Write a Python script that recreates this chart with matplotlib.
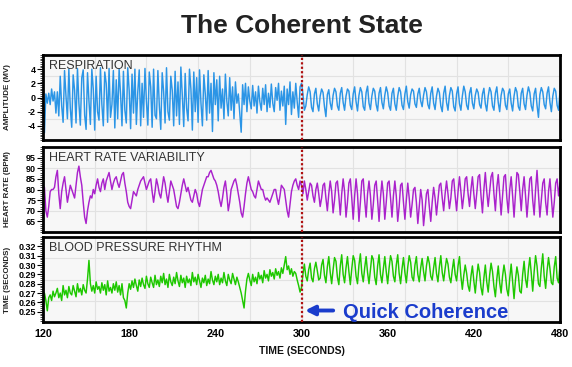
import numpy as np
import matplotlib
matplotlib.use("Agg")
import matplotlib.pyplot as plt
from matplotlib.ticker import MultipleLocator, FormatStrFormatter

plt.rcParams["font.family"] = ["Liberation Sans", "DejaVu Sans"]

# Respiration amplitude (MV), one reading per second from 120 s to 480 s
resp = [
    1.5, -5.0, 0.5, -0.8, 0.6, -1.0, 1.2, -0.5, 0.8, -2.2,
    0.8, -2.6, 3.0, -1.2, -3.5, 3.8, 0.2, -3.0, 4.0, -1.5,
    -4.2, 3.2, 1.0, -3.6, 4.1, -0.8, -3.9, 2.8, 3.9, -2.5,
    -4.5, 3.5, -0.5, -3.8, 4.0, 1.2, -4.6, 3.0, -2.0, -3.2,
    4.2, -1.0, -4.0, 3.6, 2.0, -3.5, 4.1, -2.8, -1.0, 3.8,
    -4.3, 2.5, -3.0, 4.0, 0.5, -4.0, 3.7, -1.8, -3.6, 4.2,
    1.0, -4.4, 3.3, -2.2, 4.0, -3.8, 0.8, 3.9, -4.0, 2.0,
    -2.8, 4.1, -0.5, -3.9, 3.6, 1.5, -4.2, 4.0, -2.5, -3.0,
    3.8, -1.2, -4.5, 3.5, 0.8, -3.6, 4.2, -2.0, -3.2, 3.0,
    1.0, -4.0, 3.7, -2.6, 2.2, -3.8, 4.3, 0.3, -4.1, 3.4,
    -1.5, -3.3, 4.0, 1.2, -4.6, 3.6, -2.0, 2.8, -3.5, 3.9,
    -0.8, -4.0, 3.2, 0.5, -3.2, 3.8, -2.2, 2.0, -4.8, 3.5,
    -1.0, 2.5, -3.3, 3.0, -1.5, 1.2, -3.0, 3.3, -0.5, -2.6,
    2.8, -1.8, 1.5, -3.0, 2.2, -0.8, 0.5, -2.2, -4.9, 1.8,
    -1.0, 2.0, -2.0, 1.5, -0.5, -1.6, 1.7, -1.2, 0.8, -2.2,
    1.6, -0.6, -1.8, 1.3, -1.0, 1.8, -2.0, 0.6, -1.4, 1.9,
    -0.8, -2.0, 1.4, -0.4, 2.0, -1.8, 0.9, -1.2, 1.6, -3.8,
    1.2, -1.0, 2.2, -2.4, 0.8, -1.5, 2.0, -0.6, -2.8, 1.5,
    # 300 s onward: coherent breathing
    2.0, 0.5, -1.8, -1.2,
    0.4, 1.5, 0.8, -1.4, -2.0,
    0.5, 1.3, -0.9, -1.9,
    0.2, 1.2, 0.7, -1.3, -2.7,
    0.4, 1.1, -0.8, -1.7,
    0.3, 1.3, 0.8, -1.2, -1.8,
    0.6, 1.4, -0.7, -1.8,
    0.2, 1.2, 0.9, -1.1, -1.7,
    0.5, 1.5, -0.6, -1.9,
    0.3, 1.4, 0.8, -1.3, -1.8,
    0.7, 1.6, -0.8, -1.7,
    0.2, 1.3, 0.9, -1.0, -1.9,
    0.6, 1.4, -0.7, -1.6,
    0.3, 1.5, 0.7, -1.2, -1.8,
    0.6, 1.3, -0.9, -1.8,
    0.2, 1.4, 0.8, -1.1, -1.7,
    0.5, 1.6, -0.6, -1.5,
    0.4, 1.2, 0.9, -0.9, -1.4,
    0.5, 1.3, -0.5, -1.3,
    0.3, 1.4, 0.8, -1.0, -1.6,
    0.6, 1.5, -0.8, -1.7,
    0.2, 1.3, 0.7, -1.2, -2.0,
    0.6, 1.6, -0.7, -1.8,
    0.3, 1.4, 0.9, -1.3, -1.9,
    0.5, 1.5, -0.9, -1.8,
    0.2, 1.6, 0.8, -1.1, -1.7,
    0.6, 1.4, -0.8, -1.6,
    0.3, 1.2, 0.7, -1.0, -1.5,
    0.5, 1.3, -0.9, -1.9,
    0.2, 1.4, 0.8, -1.2, -1.8,
    0.6, 1.5, -0.7, -2.0,
    0.3, 1.3, 0.9, -1.1, -1.7,
    0.5, 1.2, -0.8, -1.9,
    0.2, 1.4, 0.8, -1.3, -1.8,
    0.6, 1.3, -0.9, -1.7,
    0.3, 1.5, 0.7, -1.2, -1.9,
    0.5, 1.3, -1.1, -2.8,
    0.4, 1.4, 0.8, -1.0, -1.6,
    0.6, 1.5, -0.7, -2.0,
    0.2, 1.3, 0.9, -1.1, -1.8,
    0.9,
]

# Heart rate (BPM), one reading per second
hrv = [
    82, 81, 70, 67, 72, 79, 80, 80, 81, 86,
    89, 78, 71, 79, 83, 86, 80, 74, 78, 82,
    80, 78, 76, 82, 88, 91, 86, 82, 74, 67,
    64, 70, 74, 77, 76, 80, 78, 82, 85, 81,
    79, 83, 85, 80, 84, 86, 88, 84, 80, 83,
    85, 86, 83, 81, 84, 87, 88, 83, 79, 74,
    72, 71, 75, 79, 78, 77, 80, 82, 84, 85,
    86, 83, 80, 82, 84, 85, 79, 74, 79, 85,
    82, 78, 76, 81, 86, 83, 78, 74, 79, 84,
    82, 80, 76, 72, 71, 74, 78, 82, 85, 82,
    79, 81, 78, 75, 74, 77, 80, 78, 74, 72,
    76, 80, 82, 84, 86, 86, 88, 89, 87, 85,
    84, 82, 79, 75, 72, 76, 81, 84, 78, 70,
    74, 80, 82, 84, 85, 82, 78, 74, 69, 67,
    72, 78, 83, 86, 83, 80, 79, 77, 76, 80,
    84, 82, 80, 80, 77, 75, 76, 75, 74, 76,
    78, 80, 80, 76, 73, 77, 82, 81, 80, 75,
    70, 67, 73, 79, 82, 84, 85, 82, 80, 84,
    # 300 s onward
    82, 78, 84, 80,
    75, 79, 83, 82, 77,
    74, 80, 83, 78,
    72, 76, 82, 83, 76,
    70, 78, 84, 79,
    69, 75, 83, 84, 77,
    68, 78, 85, 79,
    67, 74, 83, 85, 76,
    66, 77, 85, 78,
    65, 74, 84, 85, 75,
    67, 78, 84, 77,
    66, 73, 82, 84, 75,
    65, 76, 84, 78,
    66, 74, 83, 84, 76,
    67, 77, 84, 77,
    65, 72, 82, 83, 74,
    66, 75, 83, 76,
    67, 73, 80, 81, 74,
    64, 72, 80, 75,
    63, 70, 78, 80, 72,
    65, 74, 81, 76,
    68, 75, 82, 83, 76,
    70, 78, 84, 78,
    71, 76, 84, 85, 77,
    70, 79, 86, 79,
    71, 77, 85, 86, 78,
    72, 80, 86, 78,
    71, 78, 86, 87, 77,
    69, 80, 88, 79,
    72, 79, 86, 88, 78,
    70, 81, 87, 78,
    68, 77, 86, 87, 76,
    69, 80, 86, 77,
    67, 78, 88, 87, 79,
    70, 80, 86, 77,
    67, 76, 85, 86, 75,
    68, 80, 89, 78,
    67, 75, 83, 85, 74,
    68, 79, 85, 76,
    67, 74, 83, 85, 77,
    83,
]

# Blood pressure rhythm (seconds), one reading per second
bp = [
    .255, .270, .262, .251, .265, .268, .262, .272, .266, .270,
    .275, .265, .270, .262, .278, .268, .273, .265, .277, .270,
    .268, .278, .272, .266, .280, .271, .275, .268, .279, .273,
    .270, .285, .305, .280, .272, .278, .270, .282, .274, .277,
    .270, .281, .273, .279, .268, .283, .272, .276, .270, .280,
    .273, .282, .271, .278, .268, .280, .265, .262, .254, .270,
    .280, .274, .283, .276, .285, .278, .272, .284, .277, .286,
    .279, .275, .288, .280, .276, .287, .281, .276, .289, .279,
    .284, .277, .288, .281, .291, .279, .285, .276, .290, .282,
    .278, .287, .280, .292, .283, .277, .289, .281, .286, .276,
    .288, .281, .285, .278, .292, .282, .287, .279, .290, .283,
    .276, .286, .281, .289, .278, .285, .280, .293, .284, .279,
    .288, .282, .290, .279, .286, .281, .292, .283, .278, .290,
    .284, .280, .291, .285, .279, .287, .282, .276, .270, .262,
    .254, .272, .285, .291, .284, .278, .290, .282, .287, .280,
    .292, .285, .289, .281, .294, .286, .290, .283, .295, .288,
    .292, .285, .296, .289, .293, .286, .297, .291, .300, .309,
    .295, .299, .290, .296, .288, .293, .291, .284, .278, .271,
    # 300 s onward
    .276, .290, .301, .288,
    .283, .295, .302, .286,
    .282, .296, .303, .294, .284,
    .286, .300, .306, .289,
    .281, .298, .309, .292,
    .280, .295, .308, .304, .287,
    .279, .299, .311, .290,
    .281, .297, .309, .293,
    .279, .296, .310, .305, .288,
    .280, .300, .312, .291,
    .282, .297, .309, .292,
    .280, .295, .310, .306, .287,
    .279, .299, .311, .290,
    .281, .296, .309, .293,
    .280, .297, .310, .304, .288,
    .282, .300, .311, .291,
    .280, .296, .308, .292,
    .281, .298, .310, .303, .287,
    .283, .300, .309, .290,
    .282, .297, .307, .293,
    .283, .299, .309, .302, .288,
    .284, .297, .308, .291,
    .282, .298, .310, .292,
    .283, .296, .307, .301, .287,
    .281, .295, .306, .290,
    .283, .299, .309, .288,
    .274, .289, .300, .291, .278,
    .272, .288, .299, .283,
    .270, .287, .301, .292, .276,
    .268, .286, .300, .282,
    .271, .289, .302, .293, .277,
    .266, .285, .299, .281,
    .270, .288, .300, .290, .274,
    .267, .286, .301, .282,
    .264, .284, .298, .289, .272,
    .270, .290, .304, .285,
    .276, .295, .308, .291,
    .272, .293, .310, .299, .280,
    .277, .297, .312, .288,
    .275, .294, .308, .296, .281,
    .279, .298, .309, .286,
    .281, .300,
]

t_start, t_end = 120, 480
x_ticks = [120, 180, 240, 300, 360, 420, 480]
event_t = 300

resp_ticks = [-4, -2, 0, 2, 4]
hrv_ticks = [65, 70, 75, 80, 85, 90, 95]
bp_ticks = [0.25, 0.26, 0.27, 0.28, 0.29, 0.30, 0.31, 0.32]

panels = [
    (resp, "#2b95e6", "RESPIRATION", "AMPLITUDE (MV)", (-6, 6), resp_ticks, 0.25, "%d"),
    (hrv, "#aa22cc", "HEART RATE VARIABILITY", "HEART RATE (BPM)", (60, 100), hrv_ticks, 1, "%d"),
    (bp, "#1ec800", "BLOOD PRESSURE RHYTHM", "TIME (SECONDS)", (0.239, 0.33), bp_ticks, 0.002, "%.2f"),
]

W, H = 572, 367
fig = plt.figure(figsize=(W / 100, H / 100), dpi=100)
fig.patch.set_facecolor("white")

fig.text(302 / W, 1 - 33 / H, "The Coherent State", ha="center", va="baseline",
         fontsize=19, fontweight="bold", color="#222222")

tops = [55, 147, 237]
ax_h = 85
left, right = 43, 560

axes = []
for (vals, color, name, ylab, ylim, ticks, minor, fmt), top in zip(panels, tops):
    ax = fig.add_axes([left / W, 1 - (top + ax_h) / H, (right - left) / W, ax_h / H])
    ax.set_facecolor("#f7f7f7")
    t = np.linspace(t_start, t_end, len(vals))
    ax.set_xlim(t_start, t_end)
    ax.set_ylim(*ylim)

    # light grid: 10 columns, 4 rows
    for gx in np.linspace(t_start, t_end, 11)[1:-1]:
        ax.axvline(gx, color="#e2e2e2", lw=0.8, zorder=0)
    for gy in np.linspace(ylim[0], ylim[1], 5)[1:-1]:
        ax.axhline(gy, color="#e2e2e2", lw=0.8, zorder=0)

    ax.plot(t, vals, color=color, lw=1.05, zorder=2)
    ax.axvline(event_t, color="#b01010", lw=1.6, linestyle=(0, (1, 1)), zorder=3)

    ax.set_yticks(ticks)
    ax.yaxis.set_minor_locator(MultipleLocator(minor))
    ax.yaxis.set_major_formatter(FormatStrFormatter(fmt))
    ax.tick_params(axis="y", which="major", length=4, width=0.8, pad=1,
                   labelsize=6.5, direction="out")
    ax.tick_params(axis="y", which="minor", length=2.5, width=0.5, direction="out")
    for lab in ax.get_yticklabels():
        lab.set_fontweight("bold")

    ax.set_xticks(x_ticks)
    ax.tick_params(axis="x", length=0, labelbottom=False)

    for s in ax.spines.values():
        s.set_linewidth(2.0)
        s.set_color("black")

    ax.text(0.012, 0.83, name, transform=ax.transAxes, fontsize=9,
            color="#333333", va="baseline", ha="left")
    fig.text(8 / W, 1 - (top + ax_h / 2) / H, ylab, rotation=90, ha="center",
             va="center", fontsize=5.8, fontweight="bold", color="#222222")
    axes.append(ax)

ax3 = axes[2]
ax3.tick_params(axis="x", labelbottom=True, labelsize=7.8, pad=5)
for lab in ax3.get_xticklabels():
    lab.set_fontweight("bold")
ax3.set_xlabel("TIME (SECONDS)", fontsize=7.5, fontweight="bold", labelpad=5, color="#111111")

blue = "#1a3ccc"
ax3.annotate("", xy=(event_t + 0.5, 0.2513), xytext=(324, 0.2513),
             arrowprops=dict(arrowstyle="-|>", color=blue, lw=2.8, mutation_scale=14),
             zorder=4)
ax3.text(329, 0.2438, "Quick Coherence", color=blue, fontsize=14.5,
         fontweight="bold", ha="left", va="baseline", zorder=4)

fig.savefig("out.png", dpi=100, facecolor="white")
